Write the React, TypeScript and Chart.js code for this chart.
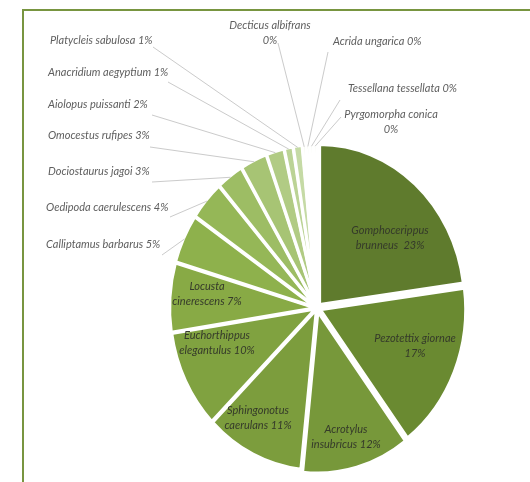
import React, { useEffect, useRef } from "react";
import { Chart, registerables } from "chart.js";

Chart.register(...registerables);

// ---- data ----
const categories = [
  "Gomphocerippus brunneus",
  "Pezotettix giornae",
  "Acrotylus insubricus",
  "Sphingonotus caerulans",
  "Euchorthippus elegantulus",
  "Locusta cinerescens",
  "Calliptamus barbarus",
  "Oedipoda caerulescens",
  "Dociostaurus jagoi",
  "Omocestus rufipes",
  "Aiolopus puissanti",
  "Anacridium aegyptium",
  "Platycleis sabulosa",
  "Decticus albifrans",
  "Acrida ungarica",
  "Tessellana tessellata",
  "Pyrgomorpha conica",
];
const values = [23, 17, 12, 11, 10, 7, 5, 4, 3, 3, 2, 1, 1, 0.4, 0.4, 0.4, 0.4];
const percentLabels = ["23%", "17%", "12%", "11%", "10%", "7%", "5%", "4%", "3%", "3%", "2%", "1%", "1%", "0%", "0%", "0%", "0%"];

// label text lines (name + percentage), as shown on the chart
const labelLines: string[][] = [
  ["Gomphocerippus", "brunneus  23%"],
  ["Pezotettix giornae", "17%"],
  ["Acrotylus", "insubricus 12%"],
  ["Sphingonotus", "caerulans 11%"],
  ["Euchorthippus", "elegantulus 10%"],
  ["Locusta", "cinerescens 7%"],
  ["Calliptamus barbarus 5%"],
  ["Oedipoda caerulescens 4%"],
  ["Dociostaurus jagoi 3%"],
  ["Omocestus rufipes 3%"],
  ["Aiolopus puissanti 2%"],
  ["Anacridium aegyptium 1%"],
  ["Platycleis sabulosa 1%"],
  ["Decticus albifrans", "0%"],
  ["Acrida ungarica 0%"],
  ["Tessellana tessellata 0%"],
  ["Pyrgomorpha conica", "0%"],
];

// ---- styles / layout ----
const sliceColors = [
  "#5f7b2d", "#6a8a31", "#77983a", "#7c9d3d", "#80a240", "#88aa45",
  "#8eb14c", "#95b757", "#9dbd64", "#a7c474", "#b1cb84", "#bbd395",
  "#c5daa5", "#cde0b2", "#d5e5bf", "#dcead0", "#e4efdb",
];
const sliceOffsets = [16, 14, 14, 6, 6, 6, 6, 6, 6, 6, 6, 6, 6, 6, 6, 6, 6];
const SY = 1.105; // vertical stretch of the pie

// inside labels: [dx, dy] of the text block centre relative to pie centre
const insideLayout: (number[] | null)[] = [
  [73, -70], [98, 38], [29, 129], [-59, 110], [-100, 35], [-110, -14],
  null, null, null, null, null, null, null, null, null, null, null,
];
// outside labels: text position [dx, dy, align], leader anchor [ax, ay]
const outsideLayout: any[] = [
  null, null, null, null, null, null,
  { t: [-271, -64], a: [-155, -53], align: "left" },
  { t: [-271, -101], a: [-147, -91], align: "left" },
  { t: [-269, -137], a: [-165, -126], align: "left" },
  { t: [-269, -173], a: [-167, -161], align: "left" },
  { t: [-269, -204], a: [-165, -193], align: "left" },
  { t: [-269, -236], a: [-149, -226], align: "left" },
  { t: [-267, -268], a: [-164, -261], align: "left" },
  { t: [-47, -275], a: [-39, -265], align: "center" },
  { t: [16, -267], a: [11, -256], align: "left" },
  { t: [31, -220], a: [23, -208], align: "left" },
  { t: [74, -186], a: [24, -191], align: "center" },
];

const FONT = "italic 11px Lato";
const LINE_H = 15;

const framePlugin = {
  id: "frame",
  beforeDraw(chart: any) {
    const ctx = chart.ctx;
    ctx.save();
    ctx.fillStyle = "#ffffff";
    ctx.fillRect(0, 0, chart.width, chart.height);
    ctx.strokeStyle = "#789540";
    ctx.lineWidth = 2;
    ctx.beginPath();
    ctx.moveTo(23, chart.height);
    ctx.lineTo(23, 10);
    ctx.lineTo(chart.width, 10);
    ctx.stroke();
    ctx.restore();
  },
};

const ellipsePlugin = {
  id: "ellipse",
  beforeDatasetsDraw(chart: any) {
    const arc = chart.getDatasetMeta(0).data[0];
    const ctx = chart.ctx;
    ctx.save();
    ctx.translate(arc.x, arc.y);
    ctx.scale(1, SY);
    ctx.translate(-arc.x, -arc.y);
  },
  afterDatasetsDraw(chart: any) {
    chart.ctx.restore();
  },
};

const labelPlugin = {
  id: "pieLabels",
  afterDraw(chart: any) {
    const ctx = chart.ctx;
    const meta = chart.getDatasetMeta(0);
    ctx.save();
    ctx.font = FONT;
    ctx.textBaseline = "middle";
    meta.data.forEach((arc: any, i: number) => {
      const cx = arc.x;
      const cy = arc.y;
      const lines = labelLines[i];
      const inside = insideLayout[i];
      if (inside) {
        ctx.fillStyle = "#353a2a";
        ctx.textAlign = "center";
        const top = cy + inside[1] - ((lines.length - 1) * LINE_H) / 2;
        lines.forEach((ln, k) => ctx.fillText(ln, cx + inside[0], top + k * LINE_H));
        return;
      }
      const out = outsideLayout[i];
      if (!out) return;
      const mid = (arc.startAngle + arc.endAngle) / 2;
      const r = arc.outerRadius + (arc.options.offset || 0) / 4;
      const px = cx + Math.cos(mid) * r;
      const py = cy + Math.sin(mid) * r * SY;
      ctx.strokeStyle = "#cbcbcb";
      ctx.lineWidth = 1;
      ctx.beginPath();
      ctx.moveTo(cx + out.a[0], cy + out.a[1]);
      ctx.lineTo(px, py);
      ctx.stroke();
      ctx.fillStyle = "#5e5e5e";
      ctx.textAlign = out.align;
      const top = cy + out.t[1] - ((lines.length - 1) * LINE_H) / 2;
      lines.forEach((ln: string, k: number) => ctx.fillText(ln, cx + out.t[0], top + k * LINE_H));
    });
    ctx.restore();
  },
};

export default function App() {
  const ref = useRef<HTMLCanvasElement>(null);
  useEffect(() => {
    if (!ref.current) return;
    const chart = new Chart(ref.current, {
      type: "pie",
      data: {
        labels: categories.map((c, i) => c + " " + percentLabels[i]),
        datasets: [
          {
            data: values,
            backgroundColor: sliceColors,
            borderColor: "#ffffff",
            borderWidth: 3,
            offset: sliceOffsets,
            clip: false,
          } as any,
        ],
      },
      options: {
        responsive: false,
        animation: false,
        devicePixelRatio: 1,
        radius: 145,
        layout: { padding: { left: 157, right: 53, top: 148, bottom: 14 } },
        plugins: {
          legend: { display: false },
          tooltip: { enabled: false },
        },
        events: [],
      } as any,
      plugins: [framePlugin, ellipsePlugin, labelPlugin],
    });
    return () => chart.destroy();
  }, []);
  return (
    <div style={{ position: "fixed", left: 0, top: 0, width: 530, height: 482, background: "#fff" }}>
      <canvas ref={ref} width={530} height={482} style={{ display: "block", width: 530, height: 482 }} />
    </div>
  );
}
